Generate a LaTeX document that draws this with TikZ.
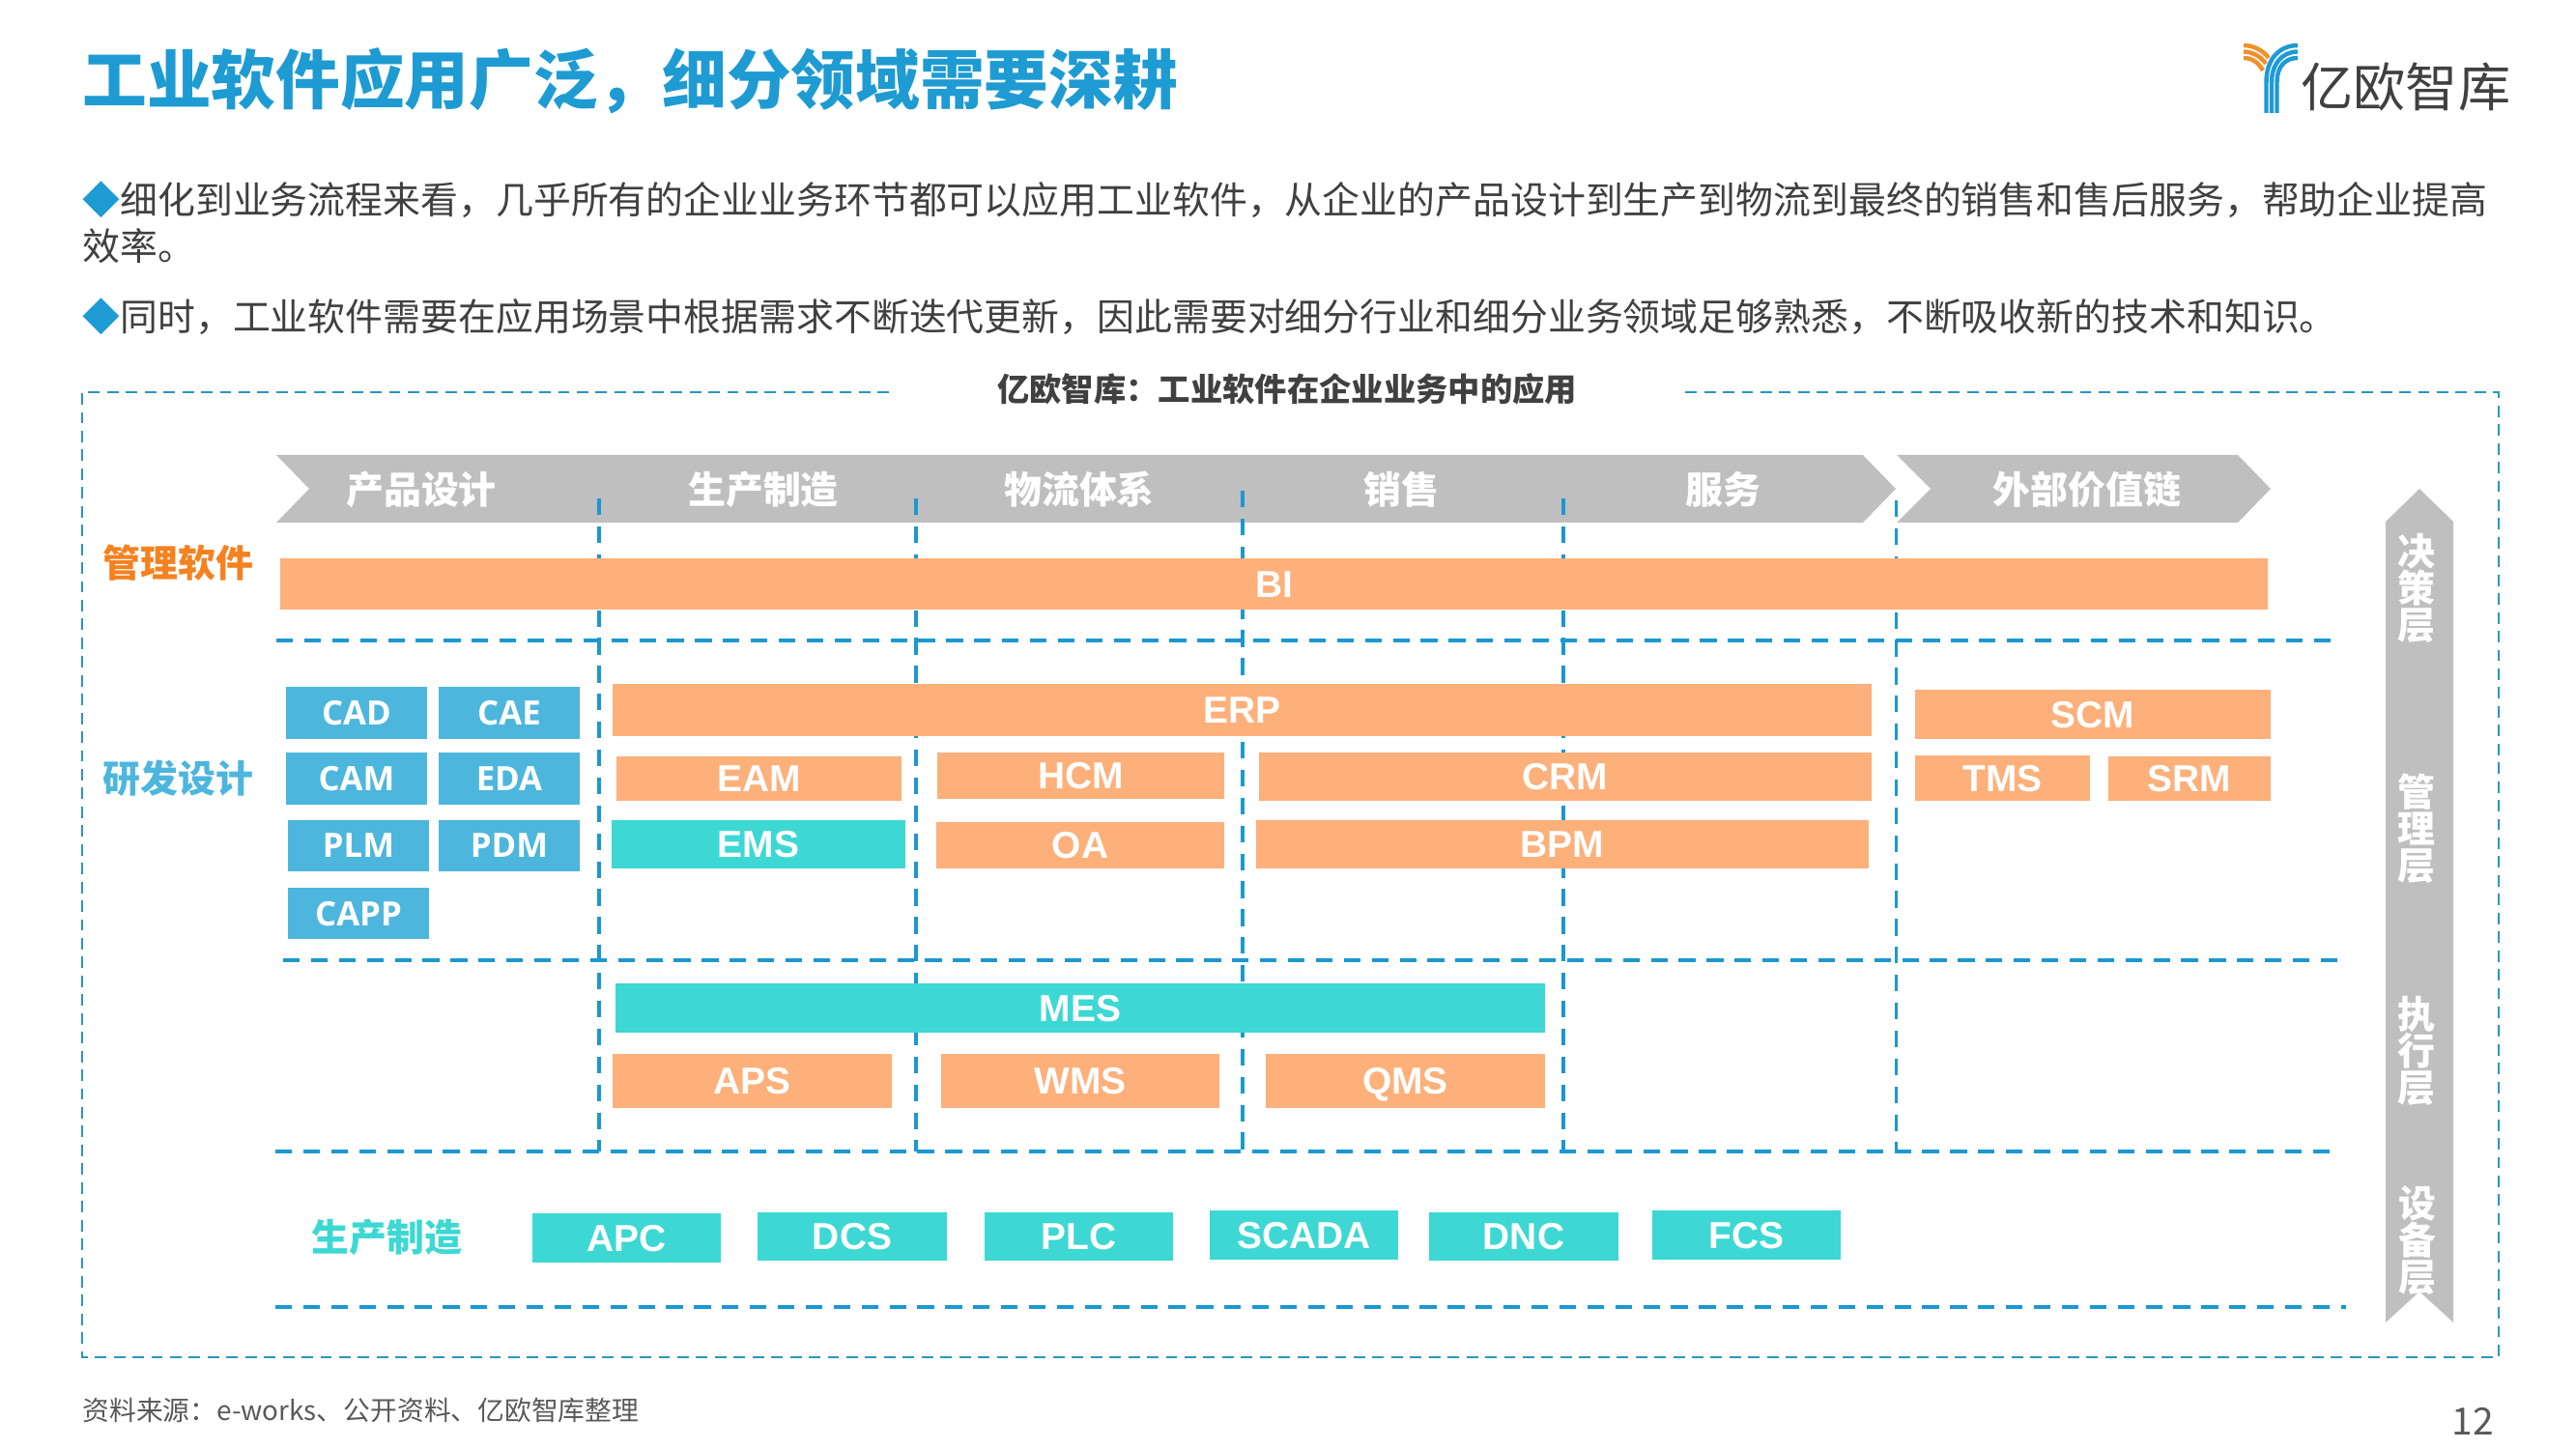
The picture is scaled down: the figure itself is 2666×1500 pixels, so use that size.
\documentclass[tikz,border=0pt]{standalone}
\usepackage{fontspec}
\setmainfont{Noto Sans CJK SC}
\newfontfamily\arialf{Liberation Sans}
\newfontfamily\yhf{Open Sans}
\definecolor{titleblue}{HTML}{1E9BD2}
\definecolor{bodygray}{HTML}{404040}
\definecolor{srcgray}{HTML}{595959}
\definecolor{dashblue}{HTML}{1B98D0}
\definecolor{outerblue}{HTML}{2A96BD}
\definecolor{bandgray}{HTML}{BFBFBF}
\definecolor{orangefill}{HTML}{FDB07A}
\definecolor{tealfill}{HTML}{3DD8D3}
\definecolor{bluefill}{HTML}{4DB6DD}
\definecolor{orangetext}{HTML}{F5811F}
\definecolor{logoorange}{HTML}{F0902A}
\definecolor{logoblue}{HTML}{1F9AD6}
\tikzset{
  ct/.style={inner sep=0pt,font=\fontsize{#1}{#1}\selectfont,text height={0.88*#1pt},text depth={0.12*#1pt}},
  cb/.style={ct=#1,font=\bfseries\fontsize{#1}{#1}\selectfont},
  innerdash/.style={draw=dashblue,line width=1.4pt,dash pattern=on 6.2pt off 4.2pt},
  outerdash/.style={draw=outerblue,line width=0.9pt,dash pattern=on 4.3pt off 2.7pt},
  bandtext/.style={cb=14,text=white},
  sidetext/.style={inner sep=0pt,text=white,align=center,font=\bfseries\fontsize{14}{13.7}\selectfont},
  orangebox/.style={fill=orangefill,text=white,inner sep=0pt,font=\arialf\bfseries\fontsize{14}{14}\selectfont,text height=10pt,text depth=0pt},
  tealbox/.style={fill=tealfill,text=white,inner sep=0pt,font=\arialf\bfseries\fontsize{14}{14}\selectfont,text height=10pt,text depth=0pt},
  bluebox/.style={fill=bluefill,text=white,inner sep=0pt,font=\yhf\bfseries\fontsize{12.5}{12.5}\selectfont,text height=9pt,text depth=0pt},
  logostroke/.style={line width=1.6pt,line cap=butt}
}
\newcommand{\rbox}[7]{\node[#2,minimum width={(#5-#3)*0.36pt},minimum height={(#6-#4)*0.36pt}] (#1) at ({(#3+#5)/2},{(#4+#6)/2}) {#7};}
\begin{document}
\begin{tikzpicture}[x=0.36pt,y=-0.36pt]
\useasboundingbox (0,0) rectangle (2666,1500);
% title
\node[cb=24,anchor=west,text=titleblue] (title) at (85,82) {工业软件应用广泛，细分领域需要深耕};
% logo
\foreach \xa/\ya/\yb/\cxa/\cxb in {2345.5/47/60/60/2360, 2351/53.5/66/66/2362, 2356.5/60/72/70/2364}{
  \draw[logostroke,logoblue] (\xa,117) -- (\xa,85) .. controls (\xa,\cxa) and (\cxb,\ya) .. (2378,\ya);
}
\draw[logostroke,logoorange] (2322,47) .. controls (2332,47) and (2342,52) .. (2348,60);
\draw[logostroke,logoorange] (2322,53.5) .. controls (2330,53.5) and (2340,58) .. (2345,66);
\draw[logostroke,logoorange] (2322,60) .. controls (2330,60) and (2337,64) .. (2342,73);
\node[ct=19.5,anchor=west,text=bodygray] (logotext) at (2381,90) {亿欧智库};
% body
\node[ct=14,anchor=west,text=bodygray] (p1) at (85,207) {\textcolor{titleblue}{◆}细化到业务流程来看，几乎所有的企业业务环节都可以应用工业软件，从企业的产品设计到生产到物流到最终的销售和售后服务，帮助企业提高};
\node[ct=14,anchor=west,text=bodygray] (p1b) at (85,255) {效率。};
\node[ct=14,anchor=west,text=bodygray] (p2) at (85,328) {\textcolor{titleblue}{◆}同时，工业软件需要在应用场景中根据需求不断迭代更新，因此需要对细分行业和细分业务领域足够熟悉，不断吸收新的技术和知识。};
% outer frame
\draw[outerdash] (920,406) -- (85,406) -- (85,1405) -- (2586,1405) -- (2586,406) -- (1743,406);
\node[cb=12,text=bodygray] (framelabel) at (1332,403) {亿欧智库：工业软件在企业业务中的应用};
% band
\fill[bandgray] (286,471) -- (1928,471) -- (1962,506) -- (1928,541) -- (286,541) -- (320,506) -- cycle;
\fill[bandgray] (1963,471) -- (2316,471) -- (2350,506) -- (2316,541) -- (1963,541) -- (1998,506) -- cycle;
\node[bandtext] (b1) at (436,507) {产品设计};
\node[bandtext] (b2) at (790,507) {生产制造};
\node[bandtext] (b3) at (1117,507) {物流体系};
\node[bandtext] (b4) at (1450,507) {销售};
\node[bandtext] (b5) at (1783,507) {服务};
\node[bandtext] (b6) at (2160,507) {外部价值链};
% vertical dashes
\draw[innerdash] (620,516) -- (620,1192);
\draw[innerdash] (948,516) -- (948,1192);
\draw[innerdash] (1286,508) -- (1286,1192);
\draw[innerdash] (1618,516) -- (1618,1192);
\draw[innerdash] (1962.5,518) -- (1962.5,1192);
% horizontal dashes
\draw[innerdash] (286,663) -- (2417,663);
\draw[innerdash] (293,994) -- (2424,994);
\draw[innerdash] (285,1192) -- (2417,1192);
\draw[innerdash] (285,1353) -- (2428,1353);
% row labels
\node[cb=14,anchor=west,text=orangetext] (l1) at (106,583) {管理软件};
\node[cb=14,anchor=west,text=bluefill] (l2) at (106,806) {研发设计};
\node[cb=14,anchor=west,text=tealfill] (l3) at (322,1281) {生产制造};
% boxes
\rbox{bi}{orangebox}{290}{578}{2347}{631}{BI}
\rbox{cad}{bluebox}{296}{711}{442}{765}{CAD}
\rbox{cae}{bluebox}{454}{711}{600}{765}{CAE}
\rbox{cam}{bluebox}{296}{779}{442}{833}{CAM}
\rbox{eda}{bluebox}{454}{779}{600}{833}{EDA}
\rbox{plm}{bluebox}{298}{849}{444}{902}{PLM}
\rbox{pdm}{bluebox}{454}{849}{600}{902}{PDM}
\rbox{capp}{bluebox}{298}{919}{444}{972}{CAPP}
\rbox{erp}{orangebox}{634}{708}{1937}{762}{ERP}
\rbox{eam}{orangebox}{638}{783}{933}{829}{EAM}
\rbox{ems}{tealbox}{633}{849}{937}{899}{EMS}
\rbox{hcm}{orangebox}{970}{779}{1267}{827}{HCM}
\rbox{oa}{orangebox}{969}{851}{1267}{899}{OA}
\rbox{crm}{orangebox}{1303}{779}{1937}{829}{CRM}
\rbox{bpm}{orangebox}{1300}{849}{1934}{899}{BPM}
\rbox{scm}{orangebox}{1982}{714}{2350}{765}{SCM}
\rbox{tms}{orangebox}{1982}{782}{2163}{829}{TMS}
\rbox{srm}{orangebox}{2182}{783}{2350}{829}{SRM}
\rbox{mes}{tealbox}{637}{1018}{1599}{1069}{MES}
\rbox{aps}{orangebox}{634}{1091}{923}{1147}{APS}
\rbox{wms}{orangebox}{974}{1091}{1262}{1147}{WMS}
\rbox{qms}{orangebox}{1310}{1091}{1599}{1147}{QMS}
\rbox{apc}{tealbox}{551}{1256}{746}{1307}{APC}
\rbox{dcs}{tealbox}{784}{1255}{980}{1305}{DCS}
\rbox{plc}{tealbox}{1019}{1255}{1214}{1305}{PLC}
\rbox{scada}{tealbox}{1252}{1253}{1447}{1304}{SCADA}
\rbox{dnc}{tealbox}{1479}{1255}{1675}{1305}{DNC}
\rbox{fcs}{tealbox}{1710}{1253}{1905}{1304}{FCS}
% side arrow
\fill[bandgray] (2504,506) -- (2539,540) -- (2539,1369) -- (2504,1337) -- (2469,1369) -- (2469,540) -- cycle;
\node[sidetext] (s1) at (2501,609) {决\\策\\层};
\node[sidetext] (s2) at (2501,858) {管\\理\\层};
\node[sidetext] (s3) at (2501,1088) {执\\行\\层};
\node[sidetext] (s4) at (2502,1284) {设\\备\\层};
% footer
\node[ct=10,anchor=west,text=srcgray] (src) at (85,1460) {资料来源：e-works、公开资料、亿欧智库整理};
\node[ct=14,text=srcgray] (pn) at (2559,1471) {12};
\end{tikzpicture}
\end{document}
